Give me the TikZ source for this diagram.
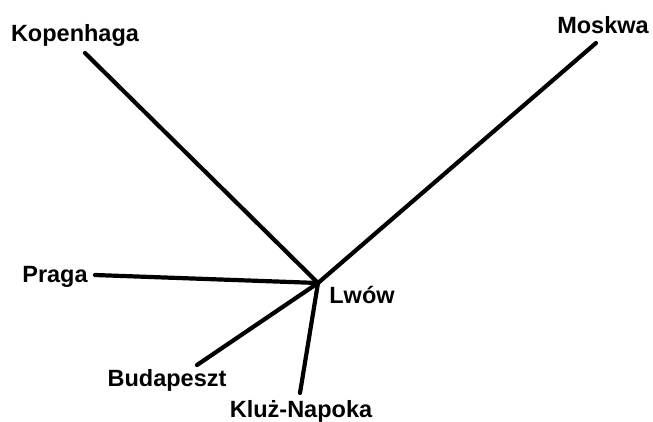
\documentclass[tikz,border=0pt]{standalone}
\usepackage{fontspec}
\setmainfont{Liberation Sans}
\begin{document}
\begin{tikzpicture}[x=1pt,y=-1pt,
  city/.style={font=\fontsize{23.5}{25}\selectfont\bfseries, inner sep=0pt, anchor=center},
  edge/.style={line width=4.2pt, line cap=round}]
\useasboundingbox (0,0) rectangle (653,421);
\coordinate (c) at (318,283);
\coordinate (kop) at (85,53);
\coordinate (mos) at (596,43);
\coordinate (pra) at (95,275);
\coordinate (bud) at (197,365);
\coordinate (klu) at (300,393);
\node[city] (lkop) at (75,35) {Kopenhaga};
\node[city] (lmos) at (603,25) {Moskwa};
\node[city] (lpra) at (55,277) {Praga};
\node[city] (lbud) at (167,380) {Budapeszt};
\node[city] (lklu) at (301,411) {Kluż-Napoka};
\node[city] (llwo) at (362,295) {Lwów};
\draw[edge] (c) -- (kop);
\draw[edge] (c) -- (mos);
\draw[edge] (c) -- (pra);
\draw[edge] (c) -- (bud);
\draw[edge] (c) -- (klu);
\end{tikzpicture}
\end{document}
